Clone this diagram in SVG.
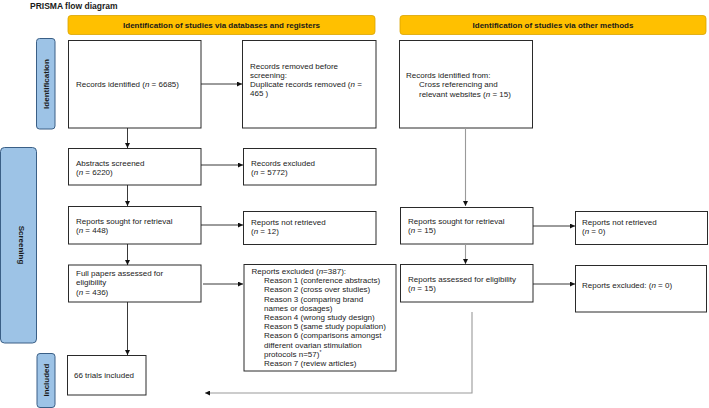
<svg xmlns="http://www.w3.org/2000/svg" width="709" height="408" viewBox="0 0 709 408">
<defs>
<style>
.box{fill:#fff;stroke:#2a2a2a;stroke-width:1}
.hdr{fill:#ffc000;stroke:#d9a300;stroke-width:0.8}
.side{fill:#9dc3e6;stroke:#3a5f86;stroke-width:1}
.t{font-family:"Liberation Sans",Arial,sans-serif;font-size:8px;fill:#222}
.b{font-family:"Liberation Sans",Arial,sans-serif;font-size:8px;font-weight:bold;fill:#1a1a1a}
.c{fill:none;stroke:#222;stroke-width:0.9}
.g{fill:none;stroke:#9a9a9a;stroke-width:1.1}
</style>
<marker id="ah" viewBox="0 0 10 10" refX="10" refY="5" markerWidth="5" markerHeight="5" markerUnits="userSpaceOnUse" orient="auto">
<path d="M0,0 L10,5 L0,10 z" fill="#111"/>
</marker>
</defs>
<rect width="709" height="408" fill="#fff"/>
<text x="30" y="9" class="b" style="font-size:8.5px">PRISMA flow diagram</text>

<g id="hdr-db"><rect class="hdr" x="68" y="15.5" width="307" height="19" rx="3"/><text x="221.5" y="27.5" class="b" text-anchor="middle">Identification of studies via databases and registers</text></g>
<g id="hdr-other"><rect class="hdr" x="400" y="15.5" width="306" height="19" rx="3"/><text x="553" y="27.5" class="b" text-anchor="middle">Identification of studies via other methods</text></g>

<g id="lbl-identification"><rect class="side" x="36.5" y="38.5" width="18.5" height="90.5" rx="3"/><text class="b" text-anchor="middle" transform="translate(48.5,84) rotate(-90)">Identification</text></g>
<g id="lbl-screening"><rect class="side" x="0.5" y="147.5" width="36" height="195.5" rx="4"/><text class="b" text-anchor="middle" transform="translate(18.5,245) rotate(90)">Screening</text></g>
<g id="lbl-included"><rect class="side" x="37" y="353.5" width="18" height="54" rx="3"/><text class="b" text-anchor="middle" transform="translate(48.5,380) rotate(-90)">Included</text></g>

<g id="n-records-identified"><rect class="box" x="68.5" y="40.5" width="132.5" height="87.5"/><text class="t" x="76" y="87">Records identified (<tspan font-style="italic">n</tspan> = 6685)</text></g>
<g id="n-records-removed"><rect class="box" x="242.5" y="40.5" width="133.5" height="87.5"/><text class="t" x="250"><tspan x="250" y="68.5">Records removed before</tspan><tspan x="250" y="77.8">screening:</tspan><tspan x="250" y="87.1">Duplicate records removed  (<tspan font-style="italic">n</tspan> =</tspan><tspan x="250" y="96.4">465 )</tspan></text></g>
<g id="n-records-other"><rect class="box" x="399.5" y="40.5" width="133" height="87.5"/><text class="t"><tspan x="406" y="78">Records identified from:</tspan><tspan x="419" y="87.3">Cross referencing and</tspan><tspan x="419" y="96.6">relevant websites (<tspan font-style="italic">n</tspan> = 15)</tspan></text></g>

<g id="n-abstracts"><rect class="box" x="68.5" y="148.5" width="132.5" height="36.5"/><text class="t"><tspan x="76" y="165.5">Abstracts screened</tspan><tspan x="76" y="175">(<tspan font-style="italic">n</tspan> = 6220)</tspan></text></g>
<g id="n-records-excluded"><rect class="box" x="243.5" y="148.5" width="132.5" height="36.5"/><text class="t"><tspan x="251" y="165.5">Records excluded</tspan><tspan x="251" y="175">(<tspan font-style="italic">n</tspan> = 5772)</tspan></text></g>

<g id="n-sought"><rect class="box" x="68.5" y="206.5" width="132.5" height="37.5"/><text class="t"><tspan x="76" y="224">Reports sought for retrieval</tspan><tspan x="76" y="233.3">(<tspan font-style="italic">n</tspan> = 448)</tspan></text></g>
<g id="n-not-retrieved"><rect class="box" x="243.5" y="211.5" width="132.5" height="33"/><text class="t"><tspan x="251" y="224.5">Reports not retrieved</tspan><tspan x="251" y="233.8">(<tspan font-style="italic">n</tspan> = 12)</tspan></text></g>

<g id="n-full-papers"><rect class="box" x="68.5" y="265" width="132.5" height="37"/><text class="t"><tspan x="76" y="276">Full papers assessed for</tspan><tspan x="76" y="285.3">eligibility</tspan><tspan x="76" y="294.6">(<tspan font-style="italic">n</tspan> = 436)</tspan></text></g>
<g id="n-reports-excluded"><rect class="box" x="244" y="264.5" width="152" height="106.5"/><text class="t"><tspan x="251.5" y="274">Reports excluded (<tspan font-style="italic">n</tspan>=387):</tspan><tspan x="264" y="283.2">Reason 1 (conference abstracts)</tspan><tspan x="264" y="292.4">Reason 2 (cross over studies)</tspan><tspan x="264" y="301.6">Reason 3 (comparing brand</tspan><tspan x="264" y="310.8">names or dosages)</tspan><tspan x="264" y="320">Reason 4 (wrong study design)</tspan><tspan x="264" y="329.2">Reason 5 (same study population)</tspan><tspan x="264" y="338.4">Reason 6 (comparisons amongst</tspan><tspan x="264" y="347.6">different ovarian stimulation</tspan><tspan x="264" y="356.8">protocols n=57)<tspan dy="-3" font-size="5">*</tspan></tspan><tspan x="264" y="366">Reason 7 (review articles)</tspan></text></g>

<g id="n-included"><rect class="box" x="67.5" y="355.5" width="78.5" height="39.5"/><text class="t" x="74" y="378">66 trials included</text></g>

<g id="n-sought-other"><rect class="box" x="400.5" y="207.5" width="132.5" height="36.5"/><text class="t"><tspan x="408" y="224">Reports sought for retrieval</tspan><tspan x="408" y="233.3">(<tspan font-style="italic">n</tspan> = 15)</tspan></text></g>
<g id="n-not-retrieved-other"><rect class="box" x="575.5" y="211.5" width="132" height="33"/><text class="t"><tspan x="582" y="224.5">Reports not retrieved</tspan><tspan x="582" y="233.8">(<tspan font-style="italic">n</tspan> = 0)</tspan></text></g>
<g id="n-assessed-other"><rect class="box" x="400.5" y="264.5" width="132.5" height="37.5"/><text class="t"><tspan x="408" y="281.5">Reports assessed for eligibility</tspan><tspan x="408" y="290.8">(<tspan font-style="italic">n</tspan> = 15)</tspan></text></g>
<g id="n-excluded-other"><rect class="box" x="575.5" y="265.5" width="131" height="46.5"/><text class="t" x="582" y="287.5">Reports excluded: (<tspan font-style="italic">n</tspan> = 0)</text></g>

<g id="connectors">
<line class="c" x1="201" y1="84" x2="242" y2="84" marker-end="url(#ah)"/>
<line class="c" x1="127.5" y1="128" x2="127.5" y2="148" marker-end="url(#ah)"/>
<line class="c" x1="201" y1="165" x2="243" y2="165" marker-end="url(#ah)"/>
<line class="c" x1="127.5" y1="185" x2="127.5" y2="206" marker-end="url(#ah)"/>
<line class="c" x1="201" y1="225" x2="243" y2="225" marker-end="url(#ah)"/>
<line class="c" x1="127.5" y1="244" x2="127.5" y2="265" marker-end="url(#ah)"/>
<line class="c" x1="203" y1="284" x2="243" y2="284" marker-end="url(#ah)"/>
<line class="c" x1="127.5" y1="302" x2="127.5" y2="355" marker-end="url(#ah)"/>
<line class="g" x1="465.5" y1="128" x2="465.5" y2="206" marker-end="url(#ah)"/>
<line class="c" x1="533" y1="226" x2="575" y2="226" marker-end="url(#ah)"/>
<line class="g" x1="465.5" y1="244" x2="465.5" y2="264" marker-end="url(#ah)"/>
<line class="c" x1="533" y1="284" x2="575" y2="284" marker-end="url(#ah)"/>
<polyline class="g" points="472,312 472,393 205,393" marker-end="url(#ah)"/>
</g>
</svg>
